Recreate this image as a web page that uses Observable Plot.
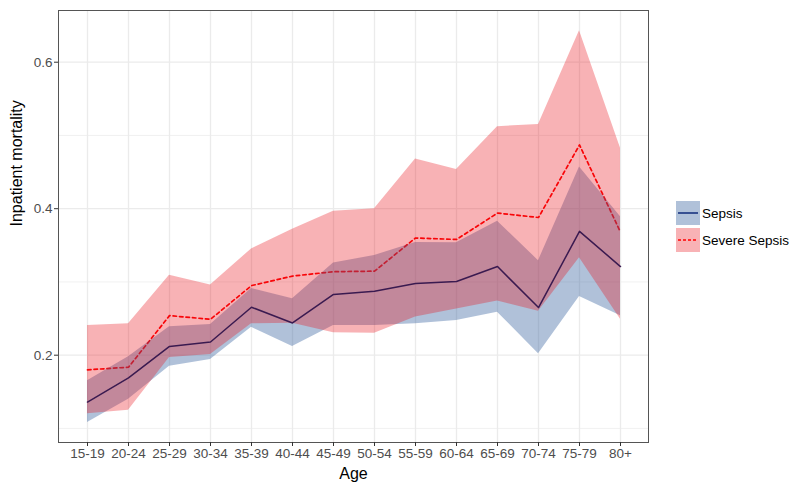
<!DOCTYPE html>
<html>
<head>
<meta charset="utf-8">
<script src="https://cdn.jsdelivr.net/npm/d3@7"></script>
<script src="https://cdn.jsdelivr.net/npm/@observablehq/plot@0.6"></script>
<style>
  body { margin: 0; background: #fff; }
  #wrap { position: relative; width: 800px; height: 495px; font-family: "Liberation Sans", Arial, sans-serif; }
  #legend { position: absolute; left: 676px; top: 201px; }
  .row { display: flex; align-items: center; height: 24px; margin-bottom: 3px; }
  .row span { font-size: 13.5px; color: #000; margin-left: 2px; }
</style>
</head>
<body>
<div id="wrap"></div>
<script>
const ages = ["15-19","20-24","25-29","30-34","35-39","40-44","45-49","50-54","55-59","60-64","65-69","70-74","75-79","80+"];

const sepsis   = [0.136,0.169,0.212,0.218,0.2655,0.244,0.283,0.2874,0.298,0.3006,0.321,0.265,0.369,0.321];
const sepsisLo = [0.108,0.140,0.185,0.194,0.238,0.212,0.2405,0.2405,0.243,0.2474,0.2587,0.202,0.280,0.254];
const sepsisHi = [0.165,0.198,0.239,0.242,0.291,0.277,0.326,0.336,0.354,0.3535,0.383,0.329,0.457,0.389];

const severe   = [0.180,0.1836,0.254,0.249,0.295,0.308,0.314,0.3147,0.360,0.358,0.394,0.388,0.487,0.368];
const severeLo = [0.120,0.125,0.197,0.201,0.243,0.2435,0.2306,0.230,0.252,0.263,0.274,0.260,0.333,0.249];
const severeHi = [0.2405,0.243,0.309,0.296,0.345,0.372,0.3966,0.400,0.468,0.4535,0.512,0.515,0.643,0.4826];

const seriesNames = ["Sepsis","Severe Sepsis"];
const yTicks = [0.2,0.4,0.6];
const yMinor = [0.1,0.3,0.5];

const blueFill = "#3a64a0", redFill = "#e8101a";
const blueOp = 0.4, redOp = 0.32;
const blueLine = "#3a1a50", redLine = "#ff0000";

const sepsisRows = ages.map((a,i)=>({age:a, y:sepsis[i], lo:sepsisLo[i], hi:sepsisHi[i]}));
const severeRows = ages.map((a,i)=>({age:a, y:severe[i], lo:severeLo[i], hi:severeHi[i]}));

const font = "Liberation Sans, Arial, sans-serif";

const chart = Plot.plot({
  width: 800, height: 495,
  marginLeft: 58, marginRight: 152, marginTop: 10, marginBottom: 53,
  style: { fontFamily: font, fontSize: "13.5px", background: "white", overflow: "visible" },
  x: { type: "point", domain: ages, padding: 0.6 },
  y: { domain: [0.0808, 0.6706] },
  marks: [
    Plot.ruleY(yMinor, { stroke: "#ebebeb", strokeWidth: 0.7 }),
    Plot.ruleY(yTicks, { stroke: "#ebebeb", strokeWidth: 1.3 }),
    Plot.ruleX(ages, { stroke: "#ebebeb", strokeWidth: 1.3 }),
    Plot.line(severeRows, { x: "age", y: "y", stroke: redLine, strokeWidth: 1.7, strokeDasharray: "3.5,3" }),
    Plot.areaY(sepsisRows, { x: "age", y1: "lo", y2: "hi", fill: blueFill, fillOpacity: blueOp }),
    Plot.areaY(severeRows, { x: "age", y1: "lo", y2: "hi", fill: redFill, fillOpacity: redOp }),
    Plot.line(sepsisRows, { x: "age", y: "y", stroke: blueLine, strokeWidth: 1.5 }),
    Plot.frame({ stroke: "#555", strokeWidth: 1 }),
    Plot.axisX({ tickSize: 4, tickPadding: 2, fontSize: 13.5, fill: "#4d4d4d", stroke: "#333", label: null }),
    Plot.axisY({ ticks: yTicks, tickFormat: d3.format(".1f"), tickSize: 4, tickPadding: 2, fontSize: 13.5, fill: "#4d4d4d", stroke: "#333", label: null }),
    Plot.text(["Age"], { frameAnchor: "bottom", dy: 36, fontSize: 16, fill: "#000" }),
    Plot.text(["Inpatient mortality"], { frameAnchor: "left", dx: -42, rotate: -90, fontSize: 16, fill: "#000" })
  ]
});

const wrap = document.getElementById("wrap");
wrap.appendChild(chart);

// Legend
const legend = document.createElement("div");
legend.id = "legend";
const items = [
  { name: seriesNames[0], fill: blueFill, op: blueOp, stroke: "#1a3480", dash: null },
  { name: seriesNames[1], fill: redFill, op: redOp, stroke: redLine, dash: "3,2" }
];
for (const it of items) {
  const row = document.createElement("div");
  row.className = "row";
  const svg = d3.create("svg").attr("width", 24).attr("height", 24);
  svg.append("rect").attr("width", 24).attr("height", 24).attr("fill", it.fill).attr("fill-opacity", it.op);
  svg.append("line").attr("x1", 2).attr("x2", 22).attr("y1", 12).attr("y2", 12)
    .attr("stroke", it.stroke).attr("stroke-width", 1.6).attr("stroke-dasharray", it.dash);
  row.appendChild(svg.node());
  const s = document.createElement("span");
  s.textContent = it.name;
  row.appendChild(s);
  legend.appendChild(row);
}
wrap.appendChild(legend);
</script>
</body>
</html>
